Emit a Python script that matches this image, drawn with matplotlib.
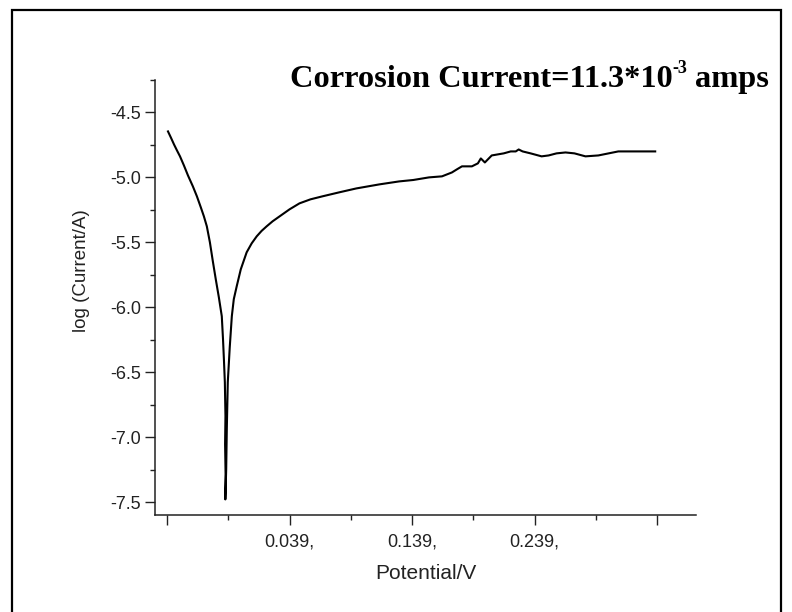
import matplotlib
matplotlib.use("Agg")
import matplotlib.pyplot as plt
from matplotlib.patches import Rectangle
from matplotlib.ticker import FixedLocator, MultipleLocator

# polarisation curve
potential = [-0.0602, -0.0577, -0.0553, -0.0529, -0.0504, -0.0472, -0.0439, -0.0399,
             -0.0366, -0.0334, -0.0309, -0.0285, -0.0260, -0.0236, -0.0212, -0.0187,
             -0.0163, -0.0153, -0.0145, -0.0138, -0.0133, -0.0136, -0.0132, -0.0134,
             -0.0127, -0.0122, -0.0114, -0.0098, -0.0081, -0.0065, -0.0041, -0.0008,
             0.0040, 0.0081, 0.0122, 0.0162, 0.0203, 0.0252, 0.0309, 0.0390,
             0.0471, 0.0561, 0.0658, 0.0796, 0.0935, 0.1122, 0.1284, 0.1400,
             0.1528, 0.1634, 0.1715, 0.1756, 0.1797, 0.1878, 0.1927, 0.1951,
             0.1984, 0.2040, 0.2138, 0.2195, 0.2236, 0.2260, 0.2292, 0.2357,
             0.2447, 0.2504, 0.2569, 0.2642, 0.2715, 0.2805, 0.2910, 0.3073,
             0.3236, 0.3374]
log_current = [-4.646, -4.696, -4.746, -4.792, -4.838, -4.908, -4.985, -5.069,
               -5.146, -5.231, -5.300, -5.377, -5.500, -5.646, -5.785, -5.923,
               -6.069, -6.246, -6.415, -6.577, -6.838, -7.054, -7.285, -7.480,
               -7.246, -6.938, -6.577, -6.308, -6.069, -5.938, -5.838, -5.708,
               -5.577, -5.508, -5.454, -5.412, -5.377, -5.338, -5.300, -5.246,
               -5.200, -5.169, -5.146, -5.115, -5.085, -5.054, -5.031, -5.020,
               -5.000, -4.992, -4.962, -4.938, -4.915, -4.915, -4.892, -4.854,
               -4.885, -4.831, -4.815, -4.800, -4.800, -4.785, -4.800, -4.815,
               -4.838, -4.831, -4.815, -4.808, -4.815, -4.838, -4.831, -4.800,
               -4.800, -4.800]

x_ticks = [-0.061, 0.039, 0.139, 0.239, 0.339]
x_tick_labels = ["", "0.039,", "0.139,", "0.239,", ""]
x_minor = [-0.011, 0.089, 0.189, 0.289]
y_ticks = [-4.5, -5.0, -5.5, -6.0, -6.5, -7.0, -7.5]
y_tick_labels = ["-4.5", "-5.0", "-5.5", "-6.0", "-6.5", "-7.0", "-7.5"]

plt.rcParams['font.family'] = ['Liberation Sans', 'DejaVu Sans']

W, H = 792, 612
fig = plt.figure(figsize=(W / 100, H / 100), dpi=100)
ax = fig.add_axes([155 / W, 1 - 515 / H, 541 / W, 435 / H])

ax.plot(potential, log_current, color='black', lw=1.5, solid_joinstyle='round')

ax.set_xlim(-0.0708, 0.3707)
ax.set_ylim(-7.6, -4.25)

ax.xaxis.set_major_locator(FixedLocator(x_ticks))
ax.set_xticklabels(x_tick_labels)
ax.xaxis.set_minor_locator(FixedLocator(x_minor))
ax.set_yticks(y_ticks)
ax.set_yticklabels(y_tick_labels)
ax.yaxis.set_minor_locator(MultipleLocator(0.25))

for s in ['top', 'right']:
    ax.spines[s].set_visible(False)
for s in ['left', 'bottom']:
    ax.spines[s].set_linewidth(1.1)
    ax.spines[s].set_color('#222222')

ax.tick_params(axis='both', which='major', length=7, width=1, colors='#222222', labelsize=13)
ax.tick_params(axis='both', which='minor', length=3.6, width=1, colors='#222222')
ax.tick_params(axis='x', which='major', pad=6)
ax.tick_params(axis='y', which='major', pad=3)

ax.set_xlabel("Potential/V", fontsize=15, labelpad=10, color='#222222')
ax.set_ylabel("log (Current/A)", fontsize=13.5, color='#222222')
ax.yaxis.set_label_coords(-0.12, 0.561)

# title with a raised "-3", laid out piece by piece
x0, y0 = 290 / W, 1 - 87 / H
title_kw = dict(family='Liberation Serif', weight='bold', va='baseline', ha='left')
t1 = fig.text(x0, y0, "Corrosion Current=11.3*10", fontsize=23.3, **title_kw)
fig.canvas.draw()
r = fig.canvas.get_renderer()
bb1 = t1.get_window_extent(r)
t2 = fig.text(bb1.x1 / W, y0 + 14 / H, "-3", fontsize=13, **title_kw)
bb2 = t2.get_window_extent(r)
fig.text((bb2.x1 + 7) / W, y0, "amps", fontsize=23.3, **title_kw)

# frame round the picture
fig.add_artist(Rectangle((12 / W, -0.05), (781 - 12) / W, 1.05 - 10 / H,
                         transform=fig.transFigure, fill=False, lw=1.6, ec='black'))

fig.savefig("out.png", dpi=100)
